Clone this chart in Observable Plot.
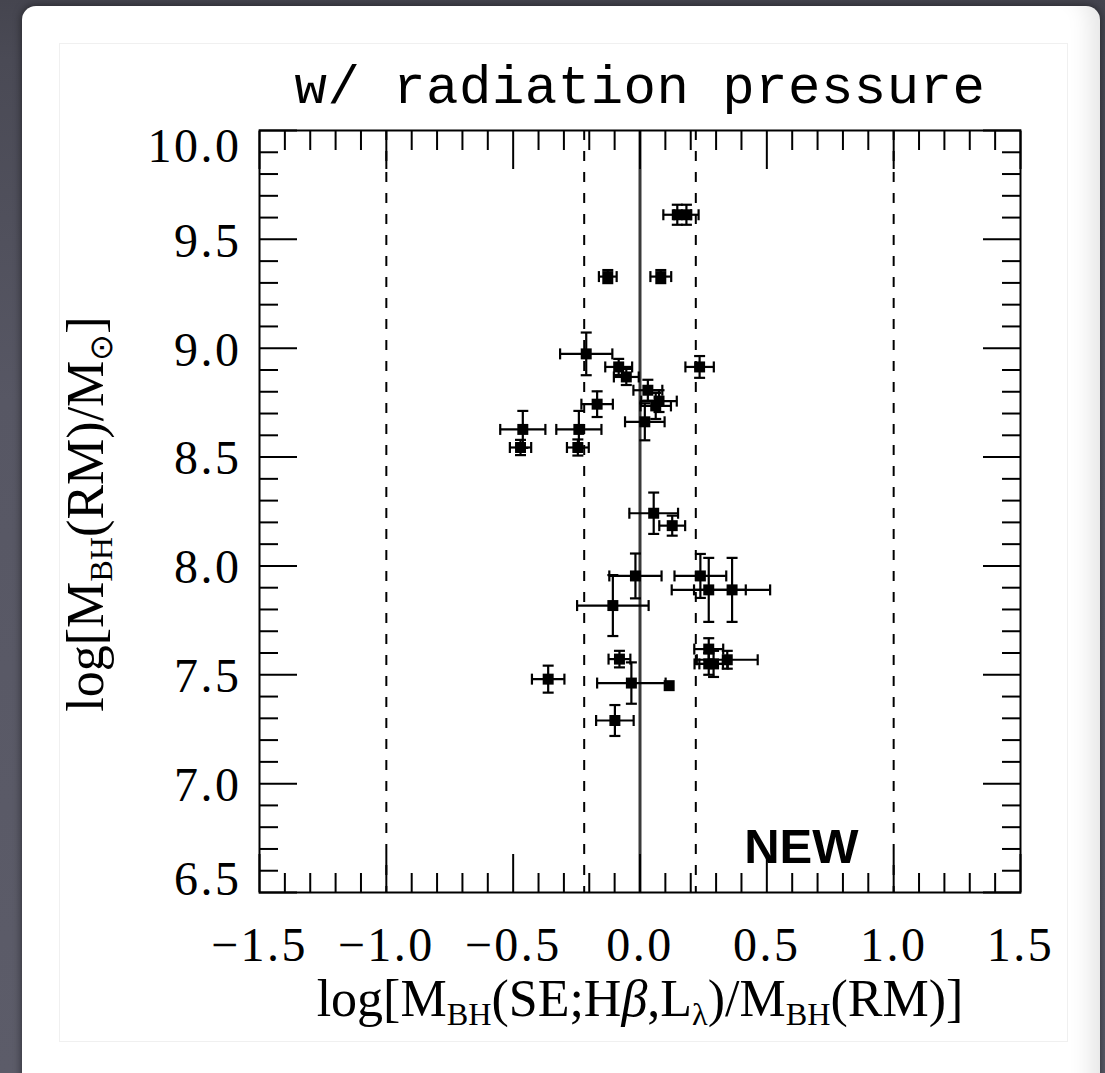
<!DOCTYPE html>
<html>
<head>
<meta charset="utf-8">
<script src="https://cdn.jsdelivr.net/npm/d3@7"></script>
<script src="https://cdn.jsdelivr.net/npm/@observablehq/plot@0.6"></script>
<style>
  html, body { margin: 0; padding: 0; }
  body { width: 1105px; height: 1073px; overflow: hidden; position: relative;
         background: linear-gradient(to bottom, #45454f 0px, #4a4a55 60px, #575764 400px, #5c5c69 1073px); }
  #panel { position: absolute; left: 22px; top: 6px; width: 1078px; height: 1100px; background: #fff;
           border-radius: 14px; box-shadow: 0 0 8px rgba(0,0,0,0.55), inset -28px 0 22px -18px rgba(0,0,0,0.10); }
  #inner { position: absolute; left: 59px; top: 43px; width: 1007px; height: 997px; border: 1px solid #f0f0f0; }
  #chart { position: absolute; left: 0; top: 0; }
  #title { position: absolute; left: 0; width: 1280px; top: 62px; text-align: center; font-family: "Liberation Mono", monospace;
           font-size: 54px; line-height: 54px; color: #000; letter-spacing: 0.5px; white-space: nowrap; }
  .atitle { position: absolute; font-family: "Liberation Serif", serif; font-size: 52px; line-height: 52px; color: #000; white-space: nowrap; text-align: center; }
  .atitle sub { font-size: 0.62em; vertical-align: -0.28em; line-height: 0; }
  #xtitle { left: 140px; width: 1000px; top: 973px; }
  #ytitle { left: -414px; width: 1000px; top: 488px; transform: rotate(-90deg); transform-origin: 500px 26px; }
  .ticklab text { letter-spacing: 2.5px; }
</style>
</head>
<body>
<div id="panel"></div>
<div id="inner"></div>
<div id="chart"></div>
<div id="title">w/ radiation pressure</div>
<div class="atitle" id="xtitle">log[M<sub>BH</sub>(SE;H<i>β</i>,L<sub>λ</sub>)/M<sub>BH</sub>(RM)]</div>
<div class="atitle" id="ytitle">log[M<sub>BH</sub>(RM)/M<sub>⊙</sub>]</div>
<script>
// ---- data ----
const ptX    = [0.147, 0.183, -0.127, 0.082, -0.212, -0.084, -0.054, 0.031, 0.075, 0.062, 0.019, -0.169, -0.462, -0.471, -0.241, -0.245, 0.235, 0.054, 0.127, -0.018, -0.107, 0.238, 0.271, 0.363, 0.271, 0.344, 0.271, 0.290, -0.362, -0.081, -0.034, 0.115, -0.099];
const ptY    = [9.613, 9.613, 9.329, 9.329, 8.974, 8.914, 8.868, 8.807, 8.757, 8.735, 8.662, 8.743, 8.627, 8.544, 8.627, 8.544, 8.914, 8.242, 8.185, 7.954, 7.818, 7.954, 7.890, 7.890, 7.618, 7.569, 7.550, 7.550, 7.480, 7.572, 7.462, 7.450, 7.290];
const ptXErr = [0.055, 0.048, 0.035, 0.041, 0.103, 0.053, 0.049, 0.057, 0.070, 0.060, 0.078, 0.062, 0.089, 0.042, 0.089, 0.043, 0.056, 0.096, 0.051, 0.103, 0.141, 0.102, 0.146, 0.150, 0.057, 0.120, 0.056, 0.056, 0.064, 0.043, 0.135, 0.000, 0.074];
const ptYErr = [0.046, 0.046, 0.030, 0.030, 0.098, 0.037, 0.037, 0.048, 0.050, 0.060, 0.085, 0.059, 0.085, 0.035, 0.085, 0.037, 0.050, 0.095, 0.046, 0.103, 0.140, 0.101, 0.147, 0.147, 0.050, 0.041, 0.050, 0.060, 0.062, 0.038, 0.095, 0.000, 0.071];

const dashedRefX = [-1.0, -0.22, 0.22, 1.0];
const solidRefX  = [0.0];

const xMajorTicks = [-1.5, -1.0, -0.5, 0.0, 0.5, 1.0, 1.5];
const xMinorTicks = [-1.4, -1.3, -1.2, -1.1, -0.9, -0.8, -0.7, -0.6, -0.4, -0.3, -0.2, -0.1, 0.1, 0.2, 0.3, 0.4, 0.6, 0.7, 0.8, 0.9, 1.1, 1.2, 1.3, 1.4];
const yMajorTicks = [6.5, 7.0, 7.5, 8.0, 8.5, 9.0, 9.5, 10.0];
const yMinorTicks = [6.6, 6.7, 6.8, 6.9, 7.1, 7.2, 7.3, 7.4, 7.6, 7.7, 7.8, 7.9, 8.1, 8.2, 8.3, 8.4, 8.6, 8.7, 8.8, 8.9, 9.1, 9.2, 9.3, 9.4, 9.6, 9.7, 9.8, 9.9];
const yLabelsMid = [7.0, 7.5, 8.0, 8.5, 9.0, 9.5];
const yLabelTop = [10.0];
const yLabelBottom = [6.5];
const noteText = ["NEW"];

// ---- build table ----
const pts = ptX.map((x, i) => ({x, y: ptY[i], xe: ptXErr[i], ye: ptYErr[i]}));
const ptsXe = pts.filter(d => d.xe > 0);
const ptsYe = pts.filter(d => d.ye > 0);

const vCap = {draw(ctx) { ctx.moveTo(0, -5.5); ctx.lineTo(0, 5.5); }};
const hCap = {draw(ctx) { ctx.moveTo(-5.5, 0); ctx.lineTo(5.5, 0); }};

const fmt = d3.format(".1f");
const serif = "Liberation Serif";
const lw = 2.2;

const plot = Plot.plot({
  width: 1105,
  height: 1073,
  marginLeft: 259,
  marginRight: 85,
  marginTop: 130,
  marginBottom: 181,
  style: {background: "transparent", color: "#000", fontFamily: serif},
  x: {domain: [-1.5, 1.5]},
  y: {domain: [6.5, 10.0]},
  marks: [
    Plot.ruleX(dashedRefX, {stroke: "#000", strokeWidth: 2, strokeDasharray: "10,11"}),
    Plot.ruleX(solidRefX, {stroke: "#3a3a3a", strokeWidth: 3}),
    // error bars
    Plot.ruleY(ptsXe, {y: "y", x1: d => d.x - d.xe, x2: d => d.x + d.xe, stroke: "#000", strokeWidth: lw}),
    Plot.ruleX(ptsYe, {x: "x", y1: d => d.y - d.ye, y2: d => d.y + d.ye, stroke: "#000", strokeWidth: lw}),
    Plot.dot(ptsXe, {x: d => d.x - d.xe, y: "y", symbol: vCap, r: 5, fill: "none", stroke: "#000", strokeWidth: lw}),
    Plot.dot(ptsXe, {x: d => d.x + d.xe, y: "y", symbol: vCap, r: 5, fill: "none", stroke: "#000", strokeWidth: lw}),
    Plot.dot(ptsYe, {x: "x", y: d => d.y - d.ye, symbol: hCap, r: 5, fill: "none", stroke: "#000", strokeWidth: lw}),
    Plot.dot(ptsYe, {x: "x", y: d => d.y + d.ye, symbol: hCap, r: 5, fill: "none", stroke: "#000", strokeWidth: lw}),
    // markers
    Plot.dot(pts, {x: "x", y: "y", symbol: "square", r: 6.2, fill: "#000", stroke: "none"}),
    // inward ticks on all four sides
    Plot.axisX({ticks: xMajorTicks, anchor: "bottom", tickSize: -38, tickFormat: () => "", strokeWidth: 2, label: null}),
    Plot.axisX({ticks: xMinorTicks, anchor: "bottom", tickSize: -19, tickFormat: () => "", strokeWidth: 2, label: null}),
    Plot.axisX({ticks: xMajorTicks, anchor: "top", tickSize: -38, tickFormat: () => "", strokeWidth: 2, label: null}),
    Plot.axisX({ticks: xMinorTicks, anchor: "top", tickSize: -19, tickFormat: () => "", strokeWidth: 2, label: null}),
    Plot.axisY({ticks: yMajorTicks, anchor: "left", tickSize: -38, tickFormat: () => "", strokeWidth: 2, label: null}),
    Plot.axisY({ticks: yMinorTicks, anchor: "left", tickSize: -19, tickFormat: () => "", strokeWidth: 2, label: null}),
    Plot.axisY({ticks: yMajorTicks, anchor: "right", tickSize: -38, tickFormat: () => "", strokeWidth: 2, label: null}),
    Plot.axisY({ticks: yMinorTicks, anchor: "right", tickSize: -19, tickFormat: () => "", strokeWidth: 2, label: null}),
    // tick labels
    Plot.axisX({ticks: xMajorTicks, anchor: "bottom", tickSize: 0, tickPadding: 34, tickFormat: fmt, fontSize: 48, fontFamily: serif, label: null, className: "ticklab"}),
    Plot.axisY({ticks: yLabelsMid, anchor: "left", tickSize: 0, tickPadding: 18, tickFormat: fmt, fontSize: 48, fontFamily: serif, label: null, dy: 2, className: "ticklab"}),
    Plot.axisY({ticks: yLabelTop, anchor: "left", tickSize: 0, tickPadding: 18, tickFormat: fmt, fontSize: 48, fontFamily: serif, label: null, dy: 16, className: "ticklab"}),
    Plot.axisY({ticks: yLabelBottom, anchor: "left", tickSize: 0, tickPadding: 18, tickFormat: fmt, fontSize: 48, fontFamily: serif, label: null, dy: -13, className: "ticklab"}),
    Plot.frame({stroke: "#000", strokeWidth: 2}),
    Plot.text(noteText, {text: d => d, frameAnchor: "bottom-right", textAnchor: "end", dx: -162, dy: -30,
      fontFamily: "Liberation Sans", fontWeight: "bold", fontSize: 49, fill: "#000"})
  ]
});
document.getElementById("chart").appendChild(plot);
</script>
</body>
</html>
